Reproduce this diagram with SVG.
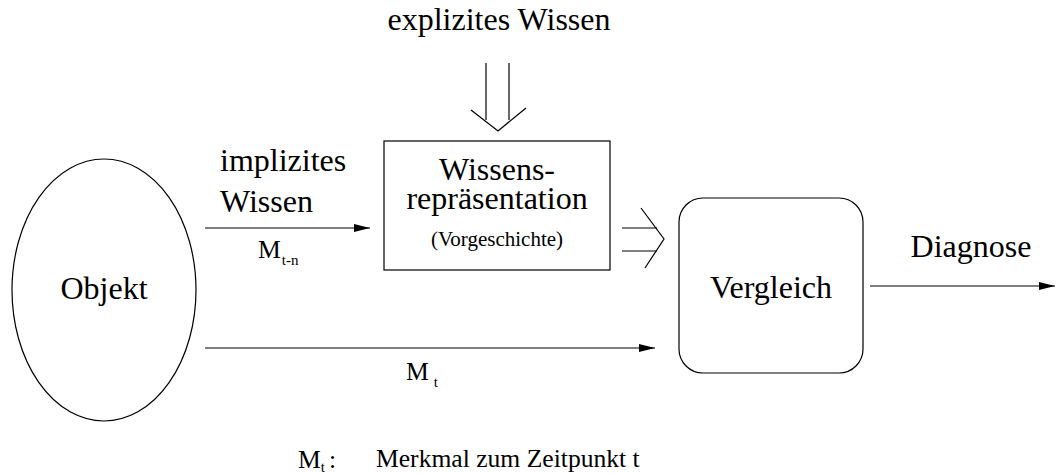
<svg xmlns="http://www.w3.org/2000/svg" width="1056" height="474" viewBox="0 0 1056 474">
  <style>
    .big { font-size: 32px; }
    .mid { font-size: 25.6px; }
    .small { font-size: 21px; }
    .sub { font-size: 15px; }
    .shape { fill: #fff; stroke: #000; stroke-width: 1.2; }
    .line { fill: none; stroke: #000; stroke-width: 1.2; }
  </style>
  <defs>
    <marker id="arrow" markerWidth="16" markerHeight="8" refX="16" refY="4" orient="auto" markerUnits="userSpaceOnUse">
      <path d="M0,0 L16,4 L0,8 Z" fill="#000"/>
    </marker>
  </defs>
  <rect width="1056" height="474" fill="#fff"/>

  <g font-family="'Liberation Serif', 'DejaVu Serif', serif" fill="#000">
    <!-- Nodes -->
    <g id="objekt">
      <ellipse class="shape" cx="104" cy="290" rx="92" ry="131"/>
      <text class="big" x="104" y="299" text-anchor="middle">Objekt</text>
    </g>

    <g id="wissensrepraesentation">
      <rect class="shape" x="384" y="141" width="226" height="129"/>
      <text class="big" x="497" y="180" text-anchor="middle">Wissens-</text>
      <text class="big" x="497" y="209" text-anchor="middle">repräsentation</text>
      <text class="small" x="497" y="246" text-anchor="middle">(Vorgeschichte)</text>
    </g>

    <g id="vergleich">
      <rect class="shape" x="679" y="198" width="184" height="175" rx="24" ry="24"/>
      <text class="big" x="771" y="298" text-anchor="middle">Vergleich</text>
    </g>

    <g id="labels">
      <text class="big" x="499" y="30" text-anchor="middle">explizites Wissen</text>
      <text class="big" x="220" y="171">implizites</text>
      <text class="big" x="220" y="212">Wissen</text>
      <text class="big" x="971" y="257" text-anchor="middle">Diagnose</text>
      <text class="mid" x="258" y="258">M<tspan class="sub" dx="1" dy="7">t-n</tspan></text>
      <text class="mid" x="406" y="380">M<tspan class="sub" dx="5" dy="7">t</tspan></text>
      <text class="mid" x="298" y="468">M<tspan class="sub" dy="4">t</tspan><tspan dy="-4" dx="4">:</tspan></text>
      <text class="mid" x="376" y="467">Merkmal zum Zeitpunkt t</text>
    </g>
  </g>

  <!-- Connectors -->
  <g id="connectors">
    <!-- explicit knowledge: hollow double arrow downwards -->
    <line class="line" x1="486" y1="63" x2="486" y2="120"/>
    <line class="line" x1="509" y1="63" x2="509" y2="120"/>
    <polyline class="line" points="471,110 498,131 526,108"/>
    <!-- implicit knowledge into the representation -->
    <line class="line" x1="205" y1="228" x2="370" y2="228" marker-end="url(#arrow)"/>
    <!-- representation into comparison: hollow double arrow -->
    <line class="line" x1="622" y1="228" x2="657" y2="228"/>
    <line class="line" x1="622" y1="251" x2="657" y2="251"/>
    <polyline class="line" points="641,208 664,239 645,268"/>
    <!-- current feature into comparison -->
    <line class="line" x1="205" y1="348" x2="655" y2="348" marker-end="url(#arrow)"/>
    <!-- diagnosis output -->
    <line class="line" x1="870" y1="286" x2="1055" y2="286" marker-end="url(#arrow)"/>
  </g>
</svg>
